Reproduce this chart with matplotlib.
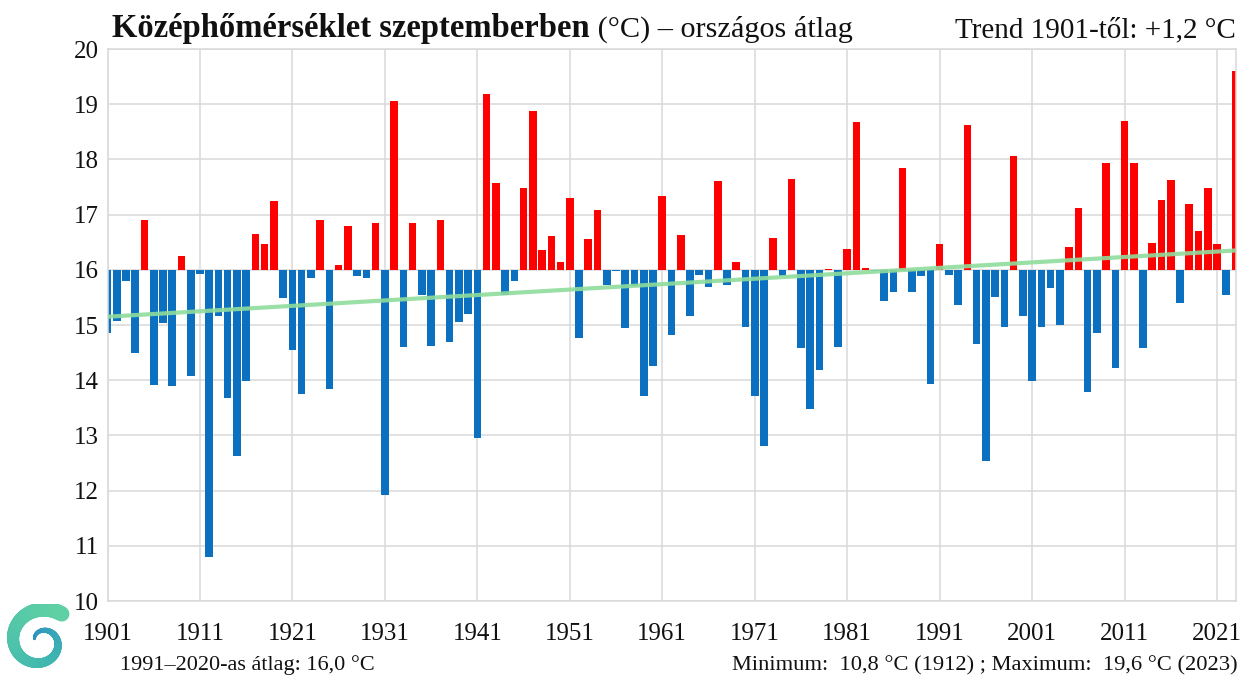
import numpy as np
import matplotlib
matplotlib.use("Agg")
import matplotlib.pyplot as plt
from matplotlib.collections import LineCollection

# ---------------- data ----------------
years = list(range(1901, 2024))
temps = [
    # 1901-1910
    14.85, 15.08, 15.80, 14.50, 16.90, 13.92, 15.04, 13.90, 16.25, 14.08,
    # 1911-1920
    15.93, 10.80, 15.17, 13.68, 12.62, 13.99, 16.65, 16.47, 17.24, 15.49,
    # 1921-1930
    14.54, 13.75, 15.86, 16.90, 13.84, 16.08, 16.79, 15.89, 15.86, 16.85,
    # 1931-1940
    11.92, 19.05, 14.60, 16.84, 15.54, 14.62, 16.90, 14.70, 15.06, 15.20,
    # 1941-1950
    12.95, 19.18, 17.58, 15.54, 15.79, 17.48, 18.87, 16.36, 16.61, 16.14,
    # 1951-1960
    17.30, 14.77, 16.56, 17.08, 15.72, 15.98, 14.95, 15.70, 13.72, 14.25,
    # 1961-1970
    17.33, 14.81, 16.63, 15.17, 15.90, 15.69, 17.60, 15.72, 16.14, 14.96,
    # 1971-1980
    13.72, 12.80, 16.57, 15.89, 17.64, 14.58, 13.48, 14.19, 16.02, 14.60,
    # 1981-1990
    16.38, 18.68, 16.04, 15.98, 15.43, 15.60, 17.85, 15.60, 15.89, 13.93,
    # 1991-2000
    16.47, 15.90, 15.37, 18.62, 14.66, 12.53, 15.50, 14.97, 18.06, 15.16,
    # 2001-2010
    13.99, 14.97, 15.67, 15.00, 16.41, 17.12, 13.79, 14.86, 17.93, 14.22,
    # 2011-2020
    18.70, 17.93, 14.59, 16.49, 17.27, 17.62, 15.40, 17.19, 16.70, 17.49,
    # 2021-2023
    16.46, 15.54, 19.60,
]
baseline = 16.0
trend_years = [1901, 2023]
trend_values = [15.15, 16.35]

yticks = list(range(10, 21))
xtick_years = list(range(1901, 2022, 10))

title_bold = "Középhőmérséklet szeptemberben"
title_rest = " (°C) – országos átlag"
trend_text = "Trend 1901-től: +1,2 °C"
avg_text = "1991–2020-as átlag: 16,0 °C"
minmax_text = "Minimum:  10,8 °C (1912) ; Maximum:  19,6 °C (2023)"

# ---------------- style ----------------
plt.rcParams['font.family'] = ['Liberation Serif', 'DejaVu Serif']
RED = "#ff0000"
BLUE = "#0b70c0"
GREEN = "#8fdc9c"
GRID = "#d9d9d9"

W, H = 1243, 679
fig = plt.figure(figsize=(W / 100, H / 100), dpi=100)
fig.patch.set_facecolor("white")

ax = fig.add_axes([107.5 / W, 1 - 601 / H, (1235.5 - 107.5) / W, (601 - 49) / H])

yrs = np.array(years)
vals = np.array(temps)
heights = vals - baseline
colors = [RED if h >= 0 else BLUE for h in heights]
ax.bar(yrs, heights, bottom=baseline, width=0.82, color=colors, zorder=2,
       linewidth=0)

ax.plot(trend_years, trend_values, color=GREEN, lw=3, zorder=3, alpha=0.9,
        solid_capstyle='butt')

ax.set_xlim(1901, 2023)
ax.set_ylim(10, 20)
ax.set_yticks(yticks)
ax.set_xticks(xtick_years)
ax.set_xticklabels([str(y) for y in xtick_years])
ax.tick_params(axis='both', length=0, labelsize=18, colors='#111111')
ax.tick_params(axis='x', pad=16)
ax.tick_params(axis='y', pad=6)
ax.grid(True, color=GRID, lw=1.1, zorder=0)
ax.set_axisbelow(True)
for s in ax.spines.values():
    s.set_color(GRID)
    s.set_linewidth(1.1)

# ---------------- texts ----------------
t1 = fig.text(112 / W, 1 - 37 / H, title_bold, fontsize=23.5, fontweight='bold',
              va='baseline', ha='left', color='#111111')
fig.canvas.draw()
bb = t1.get_window_extent()
fig.text(bb.x1 / W, 1 - 37 / H, title_rest, fontsize=21.8, va='baseline',
         ha='left', color='#111111')
fig.text(1236 / W, 1 - 37 / H, trend_text, fontsize=21, va='baseline',
         ha='right', color='#111111')

fig.text(120 / W, 1 - 670 / H, avg_text, fontsize=16, va='baseline',
         ha='left', color='#111111')
fig.text(1238 / W, 1 - 670 / H, minmax_text, fontsize=16.2, va='baseline',
         ha='right', color='#111111')

# ---------------- logo (decorative spiral) ----------------
lax = fig.add_axes([0 / W, 0 / H, 82 / W, 75 / H])
lax.set_xlim(-1.1, 1.1)
lax.set_ylim(-1.1, 1.1)
lax.axis('off')
th = np.linspace(0.4, 2.7 * np.pi, 220)
r = 0.2 + 0.8 * (th - th.min()) / (th.max() - th.min())
xs = -r * np.cos(th) * 0.95
ys = r * np.sin(th)
pts = np.column_stack([xs, ys]).reshape(-1, 1, 2)
segs = np.concatenate([pts[:-1], pts[1:]], axis=1)
cmap = matplotlib.colors.LinearSegmentedColormap.from_list("lg", ["#2c8fc4", "#3fb6b0", "#5fd0a4"])
lc = LineCollection(segs, colors=cmap(np.linspace(0, 1, len(segs))),
                    linewidths=np.linspace(2, 11, len(segs)), capstyle='round')
lax.add_collection(lc)

fig.savefig("out.png", dpi=100, facecolor="white")
